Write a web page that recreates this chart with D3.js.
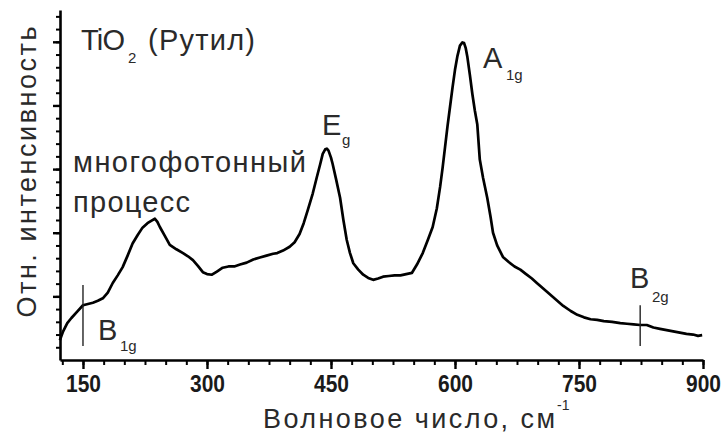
<!DOCTYPE html>
<html>
<head>
<meta charset="utf-8">
<script src="https://d3js.org/d3.v7.min.js"></script>
<title>TiO2 Raman</title>
<style>
  body { margin: 0; background: white; }
  svg { display: block; font-family: 'Liberation Sans', Arial, sans-serif; }
  .lbl { fill: #2a2a2a; }
  .tick text { fill: #1a1a1a; font-weight: bold; }
</style>
</head>
<body>
<div class="chart"></div>
<script>
// wavenumber, cm^-1
const wavenumber = [122, 126, 131, 136, 143, 150, 156, 162, 168, 174, 180, 186, 192, 198, 204, 210, 216, 222, 228, 233,
  237, 240, 243, 249, 255, 263, 271, 277, 283, 289, 295, 300, 306, 312, 319, 326, 333, 340, 348, 356,
  364, 372, 380, 385, 392, 400, 406, 412, 417, 422, 428, 433, 437, 440, 443, 445, 447, 450, 452, 456,
  461, 465, 469, 473, 477, 483, 489, 495, 501, 507, 513, 520, 527, 534, 541, 548, 554, 561, 567, 573,
  578, 582, 585, 588, 591, 594, 597, 600, 603, 606, 609, 611, 613, 615, 618, 621, 624, 627, 630, 634,
  639, 643, 646, 651, 658, 665, 672, 679, 686, 693, 699, 706, 714, 723, 731, 740, 748, 756, 764, 772,
  780, 790, 800, 808, 816, 824, 832, 840, 848, 856, 864, 872, 880, 888, 894, 899];
// relative intensity (arb. units)
const intensity = [0.31, 0.45, 0.58, 0.66, 0.76, 0.86, 0.88, 0.90, 0.93, 0.97, 1.06, 1.21, 1.33, 1.46, 1.64, 1.83, 1.96, 2.08, 2.15, 2.19,
  2.22, 2.17, 2.09, 1.95, 1.81, 1.74, 1.68, 1.63, 1.57, 1.48, 1.38, 1.35, 1.34, 1.39, 1.45, 1.47, 1.47, 1.50, 1.53, 1.58,
  1.61, 1.64, 1.67, 1.68, 1.72, 1.78, 1.85, 1.98, 2.15, 2.36, 2.62, 2.88, 3.08, 3.24, 3.31, 3.32, 3.29, 3.18, 3.08, 2.85,
  2.55, 2.20, 1.89, 1.68, 1.52, 1.42, 1.34, 1.29, 1.26, 1.28, 1.31, 1.32, 1.33, 1.33, 1.35, 1.37, 1.50, 1.68, 1.88, 2.09,
  2.38, 2.72, 3.02, 3.35, 3.68, 3.98, 4.28, 4.56, 4.78, 4.94, 4.99, 4.98, 4.90, 4.76, 4.48, 4.18, 3.92, 3.70, 3.15, 2.86,
  2.55, 2.25, 2.00, 1.80, 1.62, 1.54, 1.47, 1.42, 1.35, 1.28, 1.21, 1.13, 1.04, 0.94, 0.85, 0.77, 0.71, 0.67, 0.64, 0.63,
  0.61, 0.60, 0.58, 0.57, 0.56, 0.55, 0.55, 0.51, 0.49, 0.47, 0.45, 0.43, 0.41, 0.40, 0.38, 0.39];

const xTicks = [150, 300, 450, 600, 750, 900];
const xMinor = d3.range(125, 901, 25);
const yTicks = [1, 2, 3, 4, 5];
const yMinor = d3.range(0.2, 5.41, 0.2);

// mode markers (B1g, B2g)
const markX = [150, 824];
const markTop = [1.18, 0.86];
const markBottom = [0.22, 0.22];

const w = 724, h = 443;

const x = d3.scaleLinear().domain([122.2, 900]).range([60, 703]);
const y = d3.scaleLinear().domain([0, 5.5]).range([360, 10]);

const svg = d3.select(".chart").append("svg")
  .attr("width", w)
  .attr("height", h);

// minor ticks
svg.append("g")
  .attr("transform", "translate(0,360)")
  .call(d3.axisBottom(x).tickValues(xMinor).tickSize(5).tickSizeOuter(0).tickFormat(""))
  .call(g => g.select(".domain").remove())
  .call(g => g.selectAll("line").attr("stroke-width", 2));
svg.append("g")
  .attr("transform", "translate(60,0)")
  .call(d3.axisLeft(y).tickValues(yMinor).tickSize(4).tickSizeOuter(0).tickFormat(""))
  .call(g => g.select(".domain").remove())
  .call(g => g.selectAll("line").attr("stroke-width", 2));

// major ticks + axis lines
const xAxis = svg.append("g")
  .attr("transform", "translate(0,360)")
  .call(d3.axisBottom(x).tickValues(xTicks).tickSize(9).tickSizeOuter(0).tickPadding(5));
xAxis.select(".domain").attr("stroke-width", 2.6);
xAxis.selectAll("line").attr("stroke-width", 2.4);
xAxis.selectAll("text")
  .attr("font-size", 23)
  .attr("dy", null)
  .attr("y", 32)
  .attr("textLength", 35)
  .attr("lengthAdjust", "spacingAndGlyphs");

const yAxis = svg.append("g")
  .attr("transform", "translate(60,0)")
  .call(d3.axisLeft(y).tickValues(yTicks).tickSize(7).tickSizeOuter(0).tickFormat(""));
yAxis.select(".domain").attr("stroke-width", 2.6);
yAxis.selectAll("line").attr("stroke-width", 2.4);

// spectrum
const line = d3.line()
  .x((d, i) => x(wavenumber[i]))
  .y(d => y(d));

svg.append("path")
  .datum(intensity)
  .attr("d", line)
  .attr("fill", "none")
  .attr("stroke", "black")
  .attr("stroke-width", 2.7)
  .attr("stroke-linejoin", "round");

// markers
svg.selectAll(".mark")
  .data(markX)
  .enter()
  .append("line")
  .attr("class", "mark")
  .attr("x1", d => x(d)).attr("x2", d => x(d))
  .attr("y1", (d, i) => y(markTop[i]))
  .attr("y2", (d, i) => y(markBottom[i]))
  .attr("stroke", "#222")
  .attr("stroke-width", 1.4);

// text labels
function label(txt, lx, ly, size, len) {
  const t = svg.append("text")
    .attr("class", "lbl")
    .attr("x", lx).attr("y", ly)
    .attr("font-size", size)
    .text(txt);
  if (len) t.attr("textLength", len).attr("lengthAdjust", "spacing");
  return t;
}

label("TiO", 81, 50, 29, 44);
label("2", 128, 63, 15);
label("(Рутил)", 148, 50, 29, 107);

label("многофотонный", 73, 172, 29, 233);
label("процесс", 73, 212, 29, 117);

label("E", 322, 135, 29);
label("g", 342, 145, 15);

label("A", 483, 68, 29);
label("1g", 506, 80, 15);

label("B", 630, 288, 29);
label("2g", 652, 302, 15);

label("B", 98, 340, 29);
label("1g", 120, 351, 15);

// axis titles
label("Волновое число, см", 263, 428, 27, 292);
label("-1", 557, 410, 14);

svg.append("text")
  .attr("class", "lbl")
  .attr("transform", "translate(36,172) rotate(-90)")
  .attr("text-anchor", "middle")
  .attr("font-size", 27)
  .attr("textLength", 291)
  .attr("lengthAdjust", "spacing")
  .text("Отн. интенсивность");
</script>
</body>
</html>
